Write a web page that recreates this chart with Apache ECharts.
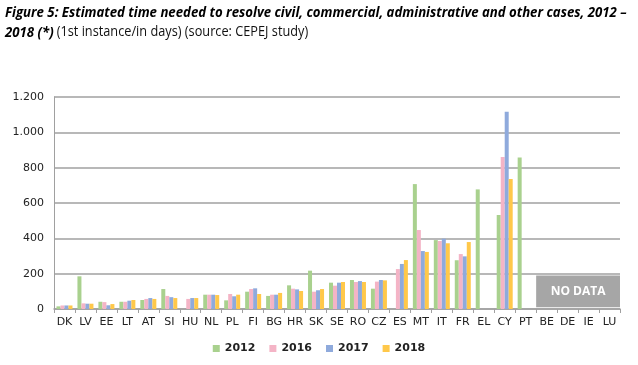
<!DOCTYPE html>
<html><head><meta charset="utf-8">
<script src="https://cdn.jsdelivr.net/npm/echarts@6/dist/echarts.min.js"></script>
<style>html,body{margin:0;padding:0;background:#fff}#c{width:638px;height:365px}</style>
</head><body><div id="c"></div>
<script>
const categories = ['DK','LV','EE','LT','AT','SI','HU','NL','PL','FI','BG','HR','SK','SE','RO','CZ','ES','MT','IT','FR','EL','CY','PT','BE','DE','IE','LU'];
const s2012 = [15,185,41,41,51,113,null,81,49,98,74,134,217,149,164,115,null,707,390,276,677,532,857,null,null,null,null];
const s2016 = [20,32,39,41,57,74,57,81,85,113,81,115,98,132,153,155,226,447,385,311,null,860,null,null,null,null,null];
const s2017 = [20,30,21,47,62,67,62,81,72,117,81,111,106,149,158,164,255,328,398,298,null,1117,null,null,null,null,null];
const s2018 = [20,30,28,51,57,62,62,79,81,85,91,102,113,153,153,162,277,323,372,379,null,736,null,null,null,null,null];
const seriesNames = ['2012','2016','2017','2018'];
const colors = ['#a9d18e','#f4b4c6','#8faadc','#ffc84a'];
const yTicks = [0,200,400,600,800,1000,1200];
const titleLine1 = 'Figure 5: Estimated time needed to resolve civil, commercial, administrative and other cases, 2012 –';
const titleLine2a = '2018 (*)';
const titleLine2b = '(1st instance/in days) (source: CEPEJ study)';
const noData = {from:'BE', to:'LU', low:10, high:190, label:'NO DATA'};

const chart = echarts.init(document.getElementById('c'), null, {renderer:'canvas'});
const data = [s2012,s2016,s2017,s2018];
chart.setOption({
  animation:false,
  color:colors,
  legend:{
    bottom:6, left:'center',
    itemWidth:7, itemHeight:7, itemGap:14,
    icon:'rect',
    textStyle:{fontFamily:'DejaVu Sans',fontSize:11,fontWeight:'bold',color:'#222'},
    data:seriesNames
  },
  grid:{left:54,right:18,top:97,bottom:56},
  xAxis:{
    type:'category', data:categories,
    axisLine:{lineStyle:{color:'#a0a0a0',width:1.5}},
    axisTick:{show:true,length:4,lineStyle:{color:'#a0a0a0'}},
    axisLabel:{fontFamily:'DejaVu Sans',fontSize:11,color:'#222',margin:8,interval:0}
  },
  yAxis:{
    type:'value', min:0, max:1200, interval:200,
    axisLine:{show:true,lineStyle:{color:'#a0a0a0',width:1}},
    axisTick:{show:false},
    splitLine:{lineStyle:{color:'#a0a0a0',width:1.5}},
    axisLabel:{fontFamily:'DejaVu Sans',fontSize:11,color:'#222',margin:10,
      formatter:v=>v>=1000?(Math.floor(v/1000)+'.'+String(v%1000).padStart(3,'0')):String(v)}
  },
  series:seriesNames.map((n,i)=>({
    name:n, type:'bar', data:data[i], barWidth:4, barGap:'0%',
    itemStyle:{color:colors[i]}
  }))
});

const p1 = chart.convertToPixel({gridIndex:0},[noData.from,noData.high]);
const p2 = chart.convertToPixel({gridIndex:0},[noData.to,noData.low]);
const half = chart.getModel().getComponent('xAxis',0).axis.getBandWidth()/2;
chart.setOption({graphic:[{
  type:'text', left:5, top:5, scaleX:0.91,
  style:{
    text:'{b|'+titleLine1+'}\n{b|'+titleLine2a+'} {n|'+titleLine2b+'}',
    rich:{
      b:{font:'italic bold 14.5px "Open Sans"',fill:'#000',lineHeight:20},
      n:{font:'normal 14px "Open Sans"',fill:'#111',lineHeight:20}
    }
  }
},{
  type:'rect', shape:{x:p1[0]-half, y:p1[1], width:(p2[0]+half)-(p1[0]-half), height:p2[1]-p1[1]},
  style:{fill:'#a6a6a6'}, z:10
},{
  type:'text', x:(p1[0]-half+p2[0]+half)/2, y:(p1[1]+p2[1])/2,
  style:{text:noData.label, fill:'#fff', font:'bold 12px "Open Sans"', align:'center', verticalAlign:'middle'}, z:11
}]});
</script></body></html>
